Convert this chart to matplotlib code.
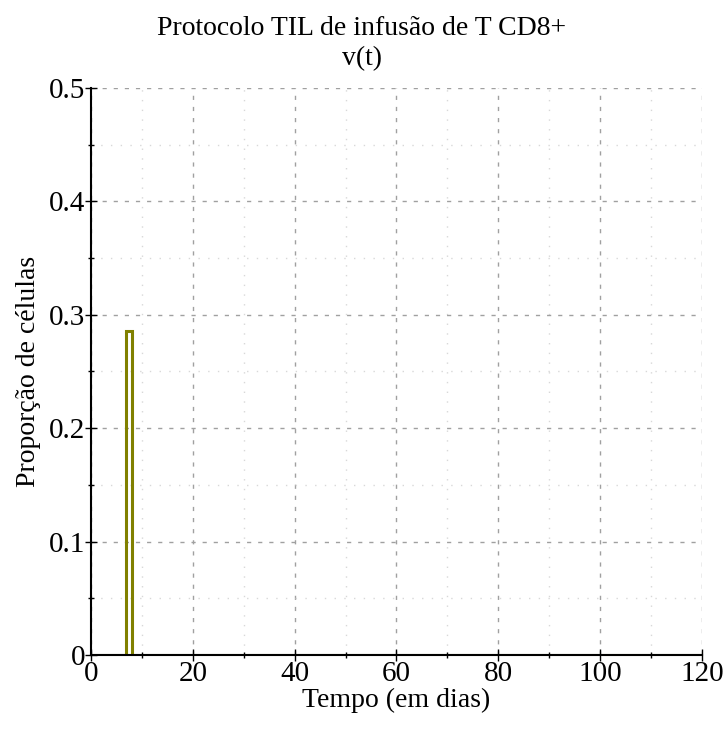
import matplotlib.pyplot as plt
from matplotlib.ticker import MultipleLocator

plt.rcParams["font.family"] = ["Liberation Serif", "DejaVu Serif"]

# infusion pulse of CD8+ T cells, v(t)
t_days = [0, 6.8, 6.8, 8, 8, 120]
v_prop = [0, 0, 0.286, 0.286, 0, 0]

fig = plt.figure(figsize=(7.24, 7.29), dpi=100)
ax = fig.add_axes([0.1257, 0.1015, 0.8439, 0.7778])

ax.plot(t_days, v_prop, color="#808000", lw=2.2, solid_joinstyle="miter", zorder=3)

ax.set_xlim(0, 120)
ax.set_ylim(0, 0.5)
ax.xaxis.set_major_locator(MultipleLocator(20))
ax.xaxis.set_minor_locator(MultipleLocator(10))
ax.yaxis.set_major_locator(MultipleLocator(0.1))
ax.yaxis.set_minor_locator(MultipleLocator(0.05))
ax.yaxis.set_major_formatter(plt.FuncFormatter(lambda v, _: "0" if v == 0 else f"{v:.1f}"))

ax.grid(True, which="major", color="#a0a0a0", ls=(0, (3, 5)), lw=1.0)
ax.grid(True, which="minor", color="#d8d8d8", ls=(0, (1, 6)), lw=1.0)
ax.set_axisbelow(True)

for side in ["top", "right"]:
    ax.spines[side].set_visible(False)
for side in ["left", "bottom"]:
    ax.spines[side].set_linewidth(1.5)
    ax.spines[side].set_zorder(4)

ax.tick_params(which="major", direction="inout", length=8, width=1, labelsize=21, pad=0)
ax.tick_params(which="minor", direction="inout", length=4, width=1)

ax.set_xlabel("Tempo (em dias)", fontsize=20, labelpad=1)
ax.set_ylabel("Proporção de células", fontsize=20, labelpad=6)
fig.text(0.5, 0.978, "Protocolo TIL de infusão de T CD8+\nv(t)", ha="center", va="top",
         fontsize=20, linespacing=1.25)

fig.savefig("out.png", dpi=100)
